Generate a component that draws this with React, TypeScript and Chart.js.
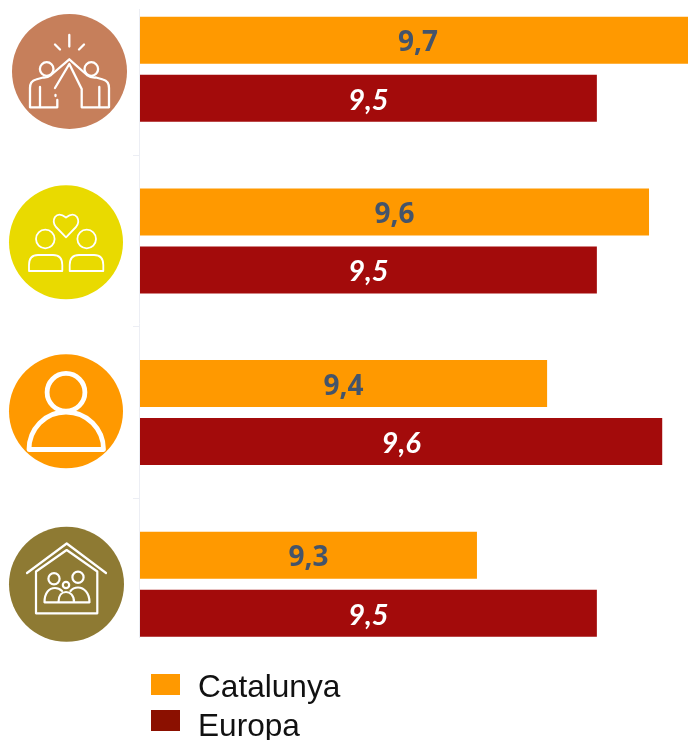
import React, { useEffect, useRef } from "react";
import { Chart, registerables } from "chart.js";

Chart.register(...registerables);

const categories = ["Amistat", "Parella", "Individu", "Família"];
const catalunya = [9.665, 9.587, 9.417, 9.3];
const europa = [9.5, 9.5, 9.609, 9.5];
const seriesNames = ["Catalunya", "Europa"];
const barColors = ["#FF9900", "#A30B0B"];
const legendColors = ["#FF9900", "#8B1000"];
const iconColors = ["#C67F5B", "#E9DA00", "#FF9900", "#8E7A33"];

const CANVAS_TOP = -30;
const CANVAS_H = 770;

function circle(ctx: CanvasRenderingContext2D, x: number, y: number, r: number) {
  ctx.beginPath();
  ctx.arc(x, y, r, 0, Math.PI * 2);
  ctx.stroke();
}

function path(ctx: CanvasRenderingContext2D, d: string) {
  ctx.stroke(new Path2D(d));
}

function disc(ctx: CanvasRenderingContext2D, x: number, y: number, r: number, color: string) {
  ctx.fillStyle = color;
  ctx.beginPath();
  ctx.arc(x, y, r, 0, Math.PI * 2);
  ctx.fill();
}

function drawIcons(ctx: CanvasRenderingContext2D) {
  ctx.save();
  ctx.translate(0, -CANVAS_TOP);
  ctx.strokeStyle = "#FFFFFF";
  ctx.lineJoin = "round";
  ctx.lineCap = "round";

  // high five
  disc(ctx, 69.5, 71.5, 57.5, iconColors[0]);
  ctx.lineWidth = 2.3;
  path(ctx, "M69.3 35V46.5M55 44.5L60 49.5M84 44.5L79 49.5");
  circle(ctx, 46.7, 69, 6.8);
  circle(ctx, 91.3, 69, 6.8);
  path(ctx, "M57.3 100V107.3H30V88Q30 81 36 79.5L43 77.5Q47 78 51 75L69.3 59.3L87 75Q91 78 96 77.5L103 79.5Q109 81 109 88V107.3H81.7V89L69.3 64L55 88");
  path(ctx, "M40 87V107M99.3 87V107M55.5 95V96");

  // couple
  disc(ctx, 66, 242.3, 57, iconColors[1]);
  ctx.lineWidth = 1.8;
  path(ctx, "M66 237.3L56 227Q52 222 55 217Q59 212 66 217.5Q73 212 77 217Q80 222 76 227Z");
  circle(ctx, 45.3, 239, 9.3);
  circle(ctx, 86.7, 239, 9.3);
  path(ctx, "M29 271V265Q29 255 38 255H53Q62.3 255 62.3 265V271Z");
  path(ctx, "M69.7 271V265Q69.7 255 79 255H94Q103.3 255 103.3 265V271Z");

  // person
  disc(ctx, 66, 411.3, 57, iconColors[2]);
  ctx.lineWidth = 4.8;
  circle(ctx, 66, 392.3, 18.9);
  path(ctx, "M29 449.5H103.5C103.5 429 87 412 66 412C45 412 29 429 29 449.5Z");

  // family house
  disc(ctx, 66.5, 584.3, 57.5, iconColors[3]);
  ctx.lineWidth = 2.2;
  path(ctx, "M27 573L66.7 543.5L106 573");
  path(ctx, "M36 571.5V613.3H97.3V571.5L66.7 550Z");
  circle(ctx, 54, 578.7, 5.6);
  circle(ctx, 78, 577.3, 5.6);
  circle(ctx, 66, 585, 3.2);
  path(ctx, "M44.5 602.3H89.5C89.5 593 84 587.5 78 587.5C74 587.5 72 589 70.5 591M44.5 602.3C44.5 593 49 588 55 588C58 588 60.5 589.5 62 591");
  path(ctx, "M58.5 602C58.5 595 62 592 66 592C70 592 74 595 74 602");
  ctx.restore();
}

const decor = {
  id: "decor",
  afterDraw(chart: any) {
    const { ctx } = chart;
    const x = chart.scales.y.left + chart.scales.y.width;
    ctx.save();
    ctx.strokeStyle = "#ECEEF4";
    ctx.lineWidth = 1;
    ctx.beginPath();
    ctx.moveTo(x - 0.5, 9 - CANVAS_TOP);
    ctx.lineTo(x - 0.5, 638 - CANVAS_TOP);
    ctx.stroke();
    ctx.restore();
    drawIcons(ctx);

    const xs = chart.scales.x;
    ctx.save();
    ctx.textAlign = "center";
    ctx.textBaseline = "middle";
    chart.data.datasets.forEach((ds: any, di: number) => {
      const meta = chart.getDatasetMeta(di);
      ctx.font = di === 0 ? 'normal bold 28px "Open Sans"' : 'italic bold 29px Lato';
      ctx.fillStyle = di === 0 ? "#44546A" : "#FFFFFF";
      ds.data.forEach((v: number, i: number) => {
        const label = v.toFixed(1).replace(".", ",");
        const cx = (xs.left + xs.getPixelForValue(v)) / 2;
        ctx.fillText(label, cx, meta.data[i].y + (di === 0 ? 3 : 2));
      });
    });
    ctx.restore();
  },
};

export default function App() {
  const ref = useRef<HTMLCanvasElement>(null);
  useEffect(() => {
    const chart = new Chart(ref.current as HTMLCanvasElement, {
      type: "bar",
      data: {
        labels: categories,
        datasets: [
          { label: seriesNames[0], data: catalunya, backgroundColor: barColors[0], categoryPercentage: 0.676, barPercentage: 0.81 },
          { label: seriesNames[1], data: europa, backgroundColor: barColors[1], categoryPercentage: 0.676, barPercentage: 0.81 },
        ],
      },
      options: {
        indexAxis: "y",
        responsive: false,
        animation: false,
        layout: { padding: { top: CANVAS_TOP * -1 - 16.5, bottom: CANVAS_H + CANVAS_TOP - 670, left: 0, right: 0 } },
        plugins: { legend: { display: false }, tooltip: { enabled: false } },
        scales: {
          x: {
            min: 8.738,
            max: 9.652,
            display: false,
          },
          y: {
            type: "category",
            ticks: { display: false },
            border: { display: false },
            afterFit: (s: any) => {
              s.width = 140;
            },
            grid: {
              offset: true,
              drawOnChartArea: false,
              drawTicks: true,
              tickLength: 7,
              tickColor: (c: any) => (c.index >= 1 && c.index <= 3 ? "#ECEEF4" : "transparent"),
              color: "transparent",
            },
          },
        },
      },
      plugins: [decor],
    } as any);
    return () => chart.destroy();
  }, []);

  const swatch = (top: number, color: string): React.CSSProperties => ({
    position: "absolute",
    left: 151,
    top,
    width: 29,
    height: 21,
    background: color,
  });
  const text = (top: number): React.CSSProperties => ({
    position: "absolute",
    left: 198,
    top,
    fontFamily: '"Liberation Sans", Arial, sans-serif',
    fontSize: 31.6,
    lineHeight: "36px",
    color: "#111111",
    whiteSpace: "nowrap",
  });

  return (
    <div style={{ position: "fixed", left: 0, top: 0, width: 688, height: 740, overflow: "hidden", background: "#FFFFFF" }}>
      <canvas
        ref={ref}
        width={688}
        height={CANVAS_H}
        style={{ position: "absolute", left: 0, top: CANVAS_TOP, width: 688, height: CANVAS_H }}
      />
      <div style={swatch(674, legendColors[0])} />
      <div style={text(668)}>{seriesNames[0]}</div>
      <div style={swatch(710, legendColors[1])} />
      <div style={text(707)}>{seriesNames[1]}</div>
    </div>
  );
}
